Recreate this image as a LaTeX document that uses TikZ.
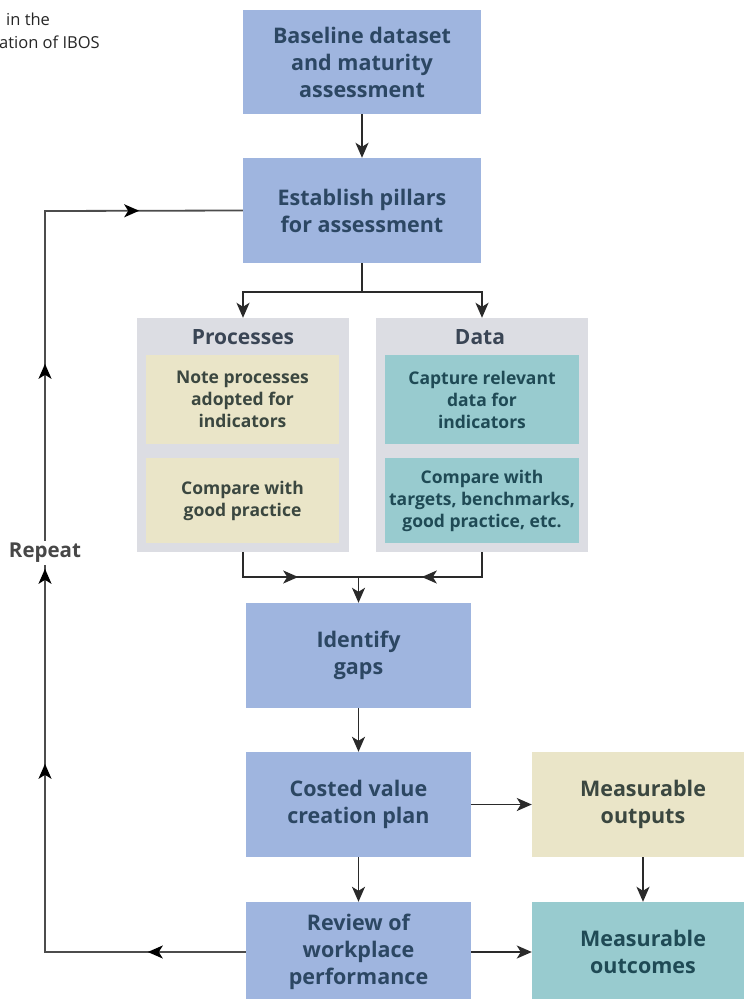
\documentclass[tikz,border=0pt]{standalone}
\usepackage{fontspec}
\setmainfont{Open Sans}
\usetikzlibrary{arrows.meta,decorations.markings}

\definecolor{boxblue}{HTML}{9FB5DF}
\definecolor{boxgray}{HTML}{DCDDE3}
\definecolor{boxbeige}{HTML}{EAE5C8}
\definecolor{boxteal}{HTML}{98CBCF}
\definecolor{txtblue}{HTML}{2C4763}
\definecolor{txtolive}{HTML}{3B4740}
\definecolor{txtteal}{HTML}{1F4A55}
\definecolor{txtgray}{HTML}{3A4555}
\definecolor{linecol}{HTML}{2A2A2A}

\tikzset{
  basebox/.style={inner sep=0pt, align=center, font=\bfseries\fontsize{21.5}{27}\selectfont},
  bluebox/.style={basebox, fill=boxblue, text=txtblue},
  container/.style={fill=boxgray, inner sep=0pt},
  header/.style={inner sep=0pt, text=txtgray, font=\bfseries\fontsize{21}{24}\selectfont},
  beigebox/.style={fill=boxbeige, inner sep=0pt, align=center, text=txtolive,
                   font=\bfseries\fontsize{17.5}{22}\selectfont},
  tealbox/.style={fill=boxteal, inner sep=0pt, align=center, text=txtteal,
                  font=\bfseries\fontsize{17.5}{22}\selectfont},
  tip/.tip={Stealth[length=15pt,width=13pt,inset=4pt]},
  conn/.style={draw=linecol, line width=1.8pt},
  arrow/.style={conn, -tip},
  midarrows/.style={postaction={decorate},
    decoration={markings, #1}},
}

\begin{document}
\begin{tikzpicture}[x=1pt,y=-1pt]
\useasboundingbox (0,0) rectangle (744,999);

% caption fragment in the upper left corner
\node[anchor=base west, inner sep=0pt, text=black!85, font=\fontsize{16.5}{20}\selectfont]
  (cap1) at (6,25) {in the};
\node[anchor=base west, inner sep=0pt, text=black!85, font=\fontsize{16.5}{20}\selectfont]
  (cap2) at (-1,48) {ation of IBOS};

% main column
\node[bluebox, minimum width=238pt, minimum height=104pt] (base) at (362,62)
  {Baseline dataset\\and maturity\\assessment};
\node[bluebox, minimum width=238pt, minimum height=105pt] (pil) at (362,210.5)
  {Establish pillars\\for assessment};

% processes / data containers
\node[container, minimum width=212pt, minimum height=234pt] (proc) at (243,435) {};
\node[header] (proch) at (243,337) {Processes};
\node[beigebox, minimum width=193pt, minimum height=89pt] (np1) at (242.5,399.5)
  {Note processes\\adopted for\\indicators};
\node[beigebox, minimum width=193pt, minimum height=85pt] (np2) at (242.5,500.5)
  {Compare with\\good practice};

\node[container, minimum width=212pt, minimum height=234pt] (data) at (482,435) {};
\node[header] (datah) at (480,337) {Data};
\node[tealbox, minimum width=194pt, minimum height=89pt] (dc1) at (482,399.5)
  {Capture relevant\\data for\\indicators};
\node[tealbox, minimum width=194pt, minimum height=85pt] (dc2) at (482,500.5)
  {Compare with\\targets, benchmarks,\\good practice, etc.};

\node[bluebox, minimum width=225pt, minimum height=105pt] (idg) at (358.5,655.5)
  {Identify\\gaps};
\node[bluebox, minimum width=225pt, minimum height=105pt] (cvp) at (358.5,804.5)
  {Costed value\\creation plan};
\node[bluebox, minimum width=225pt, minimum height=100pt] (rev) at (358.5,952)
  {Review of\\workplace\\performance};

% results column
\node[basebox, fill=boxbeige, text=txtolive, minimum width=222pt, minimum height=105pt]
  (mo) at (643,804.5) {Measurable\\outputs};
\node[basebox, fill=boxteal, text=txtteal, minimum width=222pt, minimum height=100pt]
  (mc) at (643,952) {Measurable\\outcomes};

% connectors
\coordinate (sp) at (362,292);
\coordinate (mg) at (358.5,577);
\coordinate (lb) at (45,952);
\coordinate (lt) at (45,211);

\draw[arrow] (base) -- (pil);
\draw[conn] (pil.south) -- (sp);
\draw[arrow] (sp) -| (proc.north);
\draw[arrow] (sp) -| (data.north);

\draw[conn, midarrows={mark=at position 80pt with {\arrow{tip}}}] (proc.south) |- (mg);
\draw[conn, midarrows={mark=at position 85pt with {\arrow{tip}}}] (data.south) |- (mg);
\draw[arrow] (mg) -- (idg.north);

\draw[arrow] (idg) -- (cvp);
\draw[arrow] (cvp) -- (rev);
\draw[arrow] (cvp) -- (mo);
\draw[arrow] (rev) -- (mo.west |- rev);
\draw[arrow] (mo.south -| mc) -- (mc.north);

% repeat loop
\draw[conn, draw=black!70, midarrows={
    mark=at position 98pt with {\arrow[black]{tip}},
    mark=at position 389pt with {\arrow[black]{tip}},
    mark=at position 584pt with {\arrow[black]{tip}},
    mark=at position 789pt with {\arrow[black]{tip}},
    mark=at position 1036pt with {\arrow[black]{tip}}}]
  (rev.west) -- (lb) -- (lt) -- (pil.west);
\node[fill=white, inner sep=2pt, text=black!72, font=\bfseries\fontsize{20.5}{24}\selectfont]
  (rep) at (45,553) {Repeat};
\end{tikzpicture}
\end{document}
